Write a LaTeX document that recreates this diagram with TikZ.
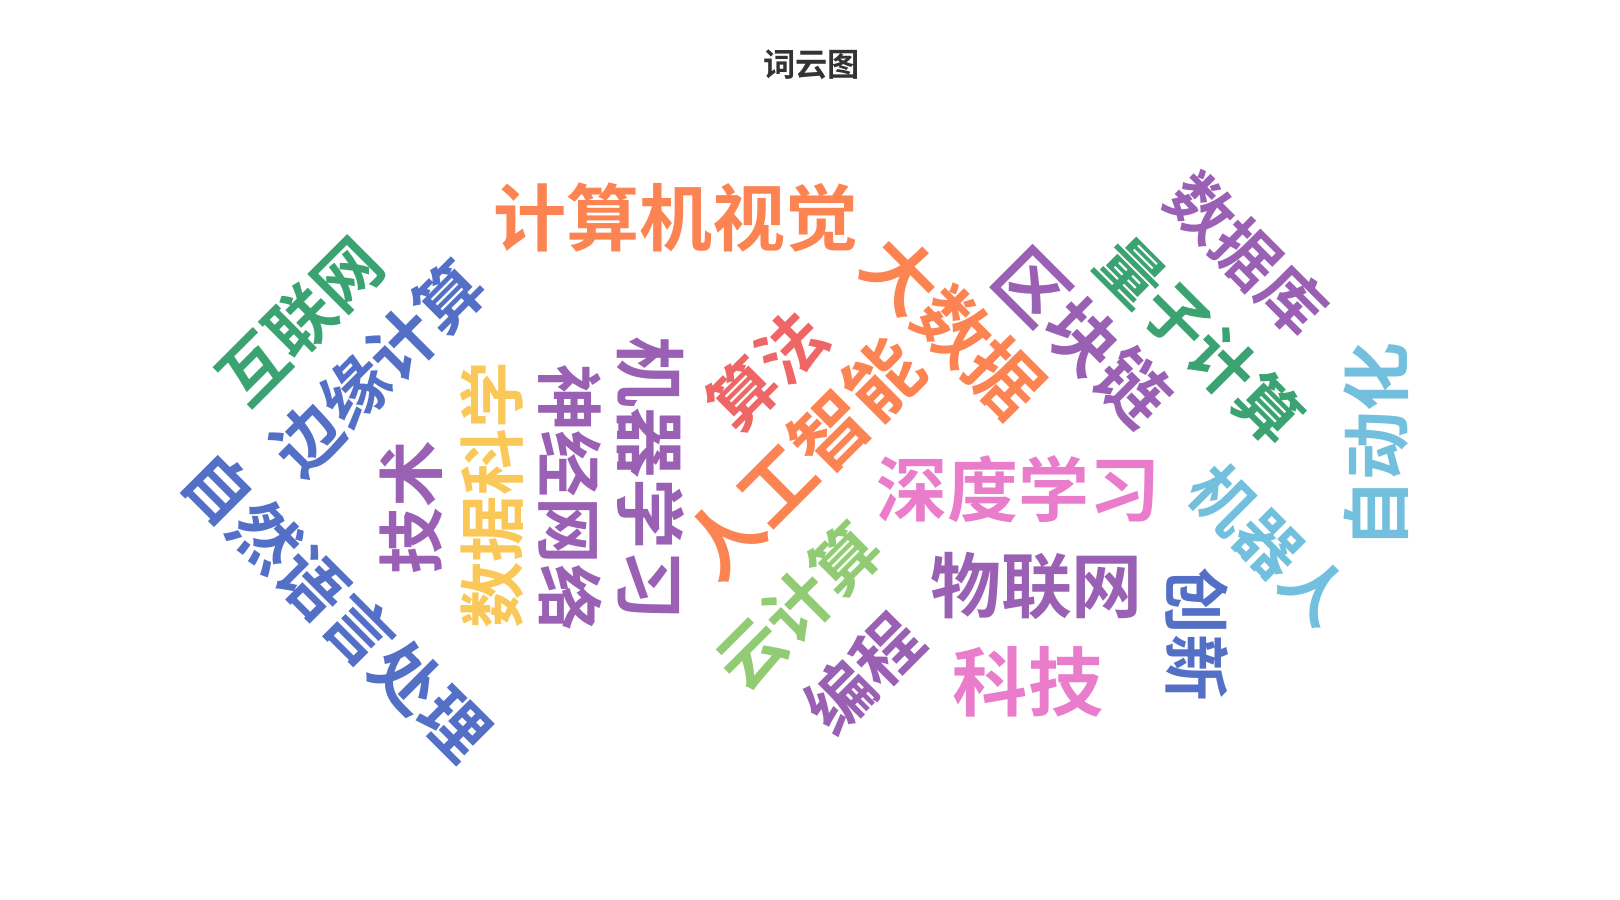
\documentclass[tikz,border=0pt]{standalone}
\usepackage{fontspec}
\newfontfamily\cjk{Noto Sans CJK SC}[BoldFont={Noto Sans CJK SC Bold}]
\definecolor{cblue}{HTML}{5470C6}
\definecolor{cgreen}{HTML}{91CC75}
\definecolor{cyellow}{HTML}{FAC858}
\definecolor{cred}{HTML}{EE6666}
\definecolor{clblue}{HTML}{73C0DE}
\definecolor{cdgreen}{HTML}{3BA272}
\definecolor{corange}{HTML}{FC8452}
\definecolor{cpurple}{HTML}{9A60B4}
\definecolor{cpink}{HTML}{EA7CCC}
\tikzset{w/.style={inner sep=0pt,font=\cjk\bfseries}}
\newcommand{\fs}[1]{\fontsize{\fpeval{#1*1.075}}{\fpeval{#1*1.075}}\selectfont}
\begin{document}
\begin{tikzpicture}[x=1.0365pt,y=-1.0365pt]
\useasboundingbox (0,0) rectangle (1563,868.3);
\node[w,text=black!80,font=\cjk\bfseries\fs{30}] (t) at (783,62) {词云图};
\node[w,text=corange,font=\cjk\bfseries\fs{68}] (a1) at (652,210) {计算机视觉};
\node[w,text=corange,rotate=-45,font=\cjk\bfseries\fs{68}] (a2) at (920,315) {大数据};
\node[w,text=cpurple,rotate=-45,font=\cjk\bfseries\fs{66}] (a3) at (1045,325) {区块链};
\node[w,text=cdgreen,rotate=-45,font=\cjk\bfseries\fs{60}] (a4) at (1158,328) {量子计算};
\node[w,text=cpurple,rotate=-45,font=\cjk\bfseries\fs{60}] (a5) at (1203,245) {数据库};
\node[w,text=clblue,rotate=90,font=\cjk\bfseries\fs{64}] (a6) at (1328,430) {自动化};
\node[w,text=clblue,rotate=-45,font=\cjk\bfseries\fs{60}] (a7) at (1225,525) {机器人};
\node[w,text=cblue,rotate=-90,font=\cjk\bfseries\fs{62}] (a8) at (1155,612) {创新};
\node[w,text=cpink,font=\cjk\bfseries\fs{66}] (a9) at (983,472) {深度学习};
\node[w,text=cpurple,font=\cjk\bfseries\fs{66}] (a10) at (1000,565) {物联网};
\node[w,text=cpink,font=\cjk\bfseries\fs{70}] (a11) at (992,658) {科技};
\node[w,text=cpurple,rotate=45,font=\cjk\bfseries\fs{62}] (a12) at (833,650) {编程};
\node[w,text=cgreen,rotate=45,font=\cjk\bfseries\fs{62}] (a13) at (770,585) {云计算};
\node[w,text=corange,rotate=45,font=\cjk\bfseries\fs{70}] (a14) at (775,442) {人工智能};
\node[w,text=cred,rotate=45,font=\cjk\bfseries\fs{62}] (a15) at (740,357) {算法};
\node[w,text=cpurple,rotate=-90,font=\cjk\bfseries\fs{66}] (a16) at (628,462) {机器学习};
\node[w,text=cpurple,rotate=-90,font=\cjk\bfseries\fs{62}] (a17) at (550,480) {神经网络};
\node[w,text=cyellow,rotate=90,font=\cjk\bfseries\fs{62}] (a18) at (475,478) {数据科学};
\node[w,text=cpurple,rotate=90,font=\cjk\bfseries\fs{62}] (a19) at (397,490) {技术};
\node[w,text=cblue,rotate=-45,font=\cjk\bfseries\fs{62}] (a20) at (325,585) {自然语言处理};
\node[w,text=cblue,rotate=45,font=\cjk\bfseries\fs{62}] (a21) at (365,355) {边缘计算};
\node[w,text=cdgreen,rotate=45,font=\cjk\bfseries\fs{62}] (a22) at (290,310) {互联网};
\end{tikzpicture}
\end{document}
